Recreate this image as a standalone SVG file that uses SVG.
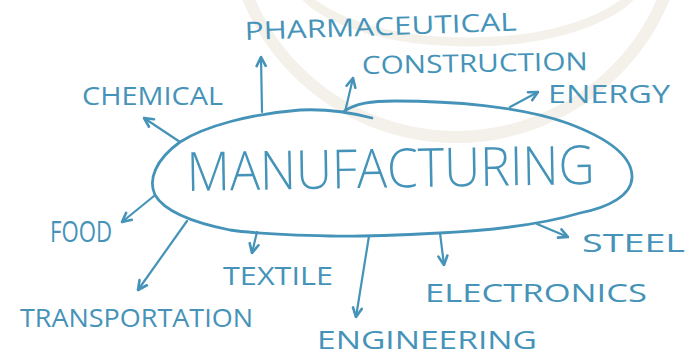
<svg xmlns="http://www.w3.org/2000/svg" width="692" height="356" viewBox="0 0 692 356">
<style>
.ring{fill:none;stroke:#f4f0ea}
.lbl{font-family:"Open Sans","DejaVu Sans",sans-serif;fill:#4593b8;font-size:25px}
.big{font-family:"Open Sans","DejaVu Sans",sans-serif;fill:#4593b8;font-size:54px;font-weight:300}
.edge{fill:none;stroke:#4593b8;stroke-width:2.2;stroke-linecap:round;marker-end:url(#ah)}
.oval{fill:none;stroke:#4593b8;stroke-width:2.8;stroke-linecap:round;stroke-linejoin:round}
</style>
<defs>
<marker id="ah" viewBox="0 0 12 12" refX="10.5" refY="6" markerWidth="12" markerHeight="12" markerUnits="userSpaceOnUse" orient="auto">
<path d="M1.5,1.5 L10.5,6 L1.5,10.5" fill="none" stroke="#4593b8" stroke-width="2.6" stroke-linecap="round" stroke-linejoin="round"/>
</marker>
</defs>
<rect width="692" height="356" fill="#ffffff"/>
<g id="background">
<circle class="ring" cx="456" cy="-88" r="225" stroke-width="12"/>
<ellipse class="ring" cx="468" cy="-30" rx="175" ry="72" stroke-width="9"/>
</g>
<g id="connectors">
<line class="edge" x1="180" y1="142" x2="144" y2="118"/>
<line class="edge" x1="262" y1="112" x2="261" y2="57"/>
<line class="edge" x1="345" y1="112" x2="353" y2="78"/>
<line class="edge" x1="510" y1="107" x2="538" y2="92"/>
<line class="edge" x1="154" y1="196" x2="122" y2="222"/>
<line class="edge" x1="187" y1="221" x2="138" y2="290"/>
<line class="edge" x1="257" y1="232" x2="252" y2="253"/>
<line class="edge" x1="369" y1="236" x2="356" y2="317"/>
<line class="edge" x1="440" y1="233" x2="444" y2="265"/>
<line class="edge" x1="537" y1="224" x2="568" y2="237"/>
</g>
<g id="manufacturing">
<path class="oval" d="M343 112 C355 103 372 101 395 101 C450 101 520 106 567 123 C605 137 633 155 632 178 C631 195 610 207 580 213 C550 222 500 230 440 233 C400 235 360 237 330 236 C290 235 250 233 230 230 C195 223 165 212 155 195 C148 180 155 160 180 142 C205 126 250 114 300 110 C320 109 345 111 372 118"/>
<text class="big" x="187" y="191" textLength="408" lengthAdjust="spacingAndGlyphs" transform="rotate(-1 187 191)">MANUFACTURING</text>
</g>
<g id="chemical"><text class="lbl" x="82" y="105" textLength="141" lengthAdjust="spacingAndGlyphs">CHEMICAL</text></g>
<g id="pharmaceutical"><text class="lbl" x="245" y="40" textLength="272" lengthAdjust="spacingAndGlyphs" transform="rotate(-2 245 40)">PHARMACEUTICAL</text></g>
<g id="construction"><text class="lbl" x="362" y="74" textLength="226" lengthAdjust="spacingAndGlyphs" transform="rotate(-1 362 74)">CONSTRUCTION</text></g>
<g id="energy"><text class="lbl" x="548" y="103" textLength="122" lengthAdjust="spacingAndGlyphs">ENERGY</text></g>
<g id="food"><text class="lbl" x="50" y="242" textLength="62" lengthAdjust="spacingAndGlyphs" style="font-size:30px">FOOD</text></g>
<g id="transportation"><text class="lbl" x="20" y="327" textLength="233" lengthAdjust="spacingAndGlyphs">TRANSPORTATION</text></g>
<g id="textile"><text class="lbl" x="223" y="285" textLength="110" lengthAdjust="spacingAndGlyphs">TEXTILE</text></g>
<g id="engineering"><text class="lbl" x="317" y="349" textLength="220" lengthAdjust="spacingAndGlyphs">ENGINEERING</text></g>
<g id="electronics"><text class="lbl" x="425" y="302" textLength="222" lengthAdjust="spacingAndGlyphs">ELECTRONICS</text></g>
<g id="steel"><text class="lbl" x="582" y="252" textLength="103" lengthAdjust="spacingAndGlyphs">STEEL</text></g>
</svg>
